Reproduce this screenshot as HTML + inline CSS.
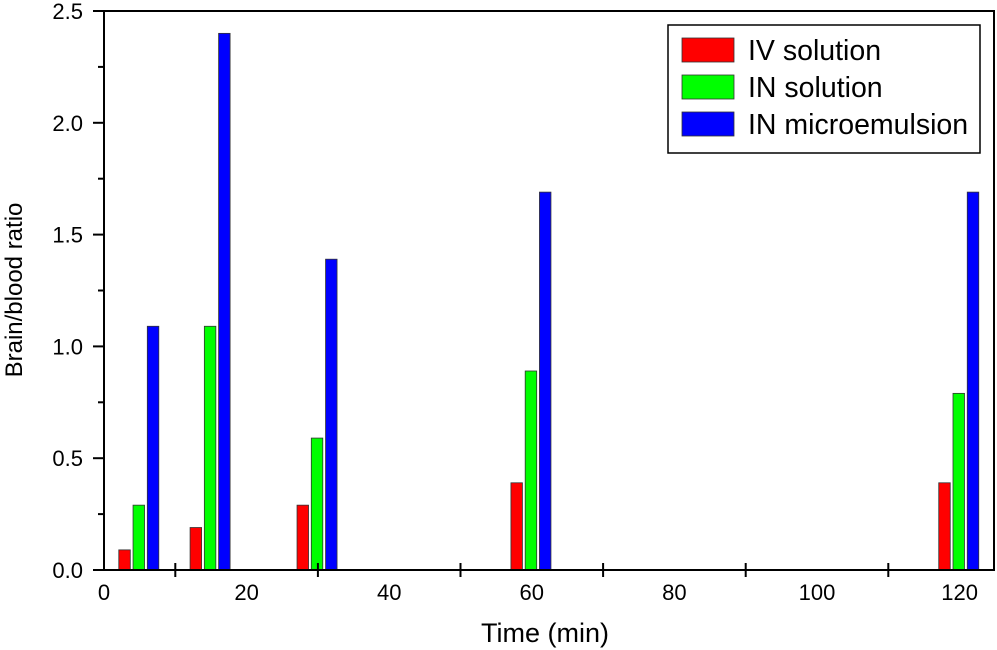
<!DOCTYPE html>
<html><head><meta charset="utf-8"><style>
html,body{margin:0;padding:0;background:#fff;}
svg{display:block;font-family:"Liberation Sans",sans-serif;}
</style></head><body>
<svg id="chart" width="997" height="650">
<g id="g"></g>
</svg>
<script>
const times=[5,15,30,60,120];
const ivSolution=[0.09,0.19,0.29,0.39,0.39];
const inSolution=[0.29,1.09,0.59,0.89,0.79];
const inMicro=[1.09,2.40,1.39,1.69,1.69];
const seriesNames=["IV solution","IN solution","IN microemulsion"];
const yTicks=[0.0,0.5,1.0,1.5,2.0,2.5];
const xTicks=[0,20,40,60,80,100,120];

const NS="http://www.w3.org/2000/svg";
const g=document.getElementById('g');
const L=104,R=994,T=11,B=570;
const xs=v=>L+(v)*7.13;
const ys=v=>B-(v/2.5)*(B-T);
function el(tag,attrs,parent){const e=document.createElementNS(NS,tag);for(const k in attrs)e.setAttribute(k,attrs[k]);(parent||g).appendChild(e);return e;}
const colors=["#ff0000","#00ff00","#0000ff"];
const offsets=[-2,0,2];
const all=[ivSolution,inSolution,inMicro];
all.forEach((arr,s)=>{arr.forEach((v,i)=>{
  const cx=xs(times[i]-0.12+offsets[s]);const w=11.5;
  const r=el('rect',{x:cx-w/2,y:ys(v),width:w,height:B-ys(v),fill:colors[s],stroke:"#333","stroke-width":0.8});
  
  
});});
const f=el('rect',{x:L,y:T,width:R-L,height:B-T,fill:"none",stroke:"#000","stroke-width":2});


for(let v=0;v<=2.5001;v+=0.25){
  const major=Math.abs(v*2-Math.round(v*2))<1e-6;
  el('line',{x1:L-(major?11:6),x2:L,y1:ys(v),y2:ys(v),stroke:"#000","stroke-width":2});
}
yTicks.forEach(v=>{
  const t=el('text',{x:83,y:ys(v)+8,"text-anchor":"end","font-size":22});
  t.textContent=v.toFixed(1);
  
  
});
for(let v=10;v<=110;v+=20){el('line',{x1:xs(v),x2:xs(v),y1:B-7,y2:B+7,stroke:"#000","stroke-width":2});}
xTicks.forEach(v=>{
  const t=el('text',{x:xs(v),y:600,"text-anchor":"middle","font-size":22});
  t.textContent=v;
  
  
});
const xt=el('text',{x:545,y:642,"text-anchor":"middle","font-size":27});
xt.textContent="Time (min)";


const yt=el('text',{x:0,y:0,"text-anchor":"middle","font-size":24,transform:"translate(22,290) rotate(-90)"});
yt.textContent="Brain/blood ratio";


const lg=el('g',{});


el('rect',{x:668,y:25,width:312,height:128,fill:"#fff",stroke:"#000","stroke-width":1.5},lg);
seriesNames.forEach((n,i)=>{
  const y=38+i*37;
  el('rect',{x:682,y:y,width:52,height:24,fill:colors[i],stroke:"#333","stroke-width":0.8},lg);
  const t=el('text',{x:748,y:y+22,"font-size":28.5},lg);
  t.textContent=n;
  
  
});
</script>
</body></html>
